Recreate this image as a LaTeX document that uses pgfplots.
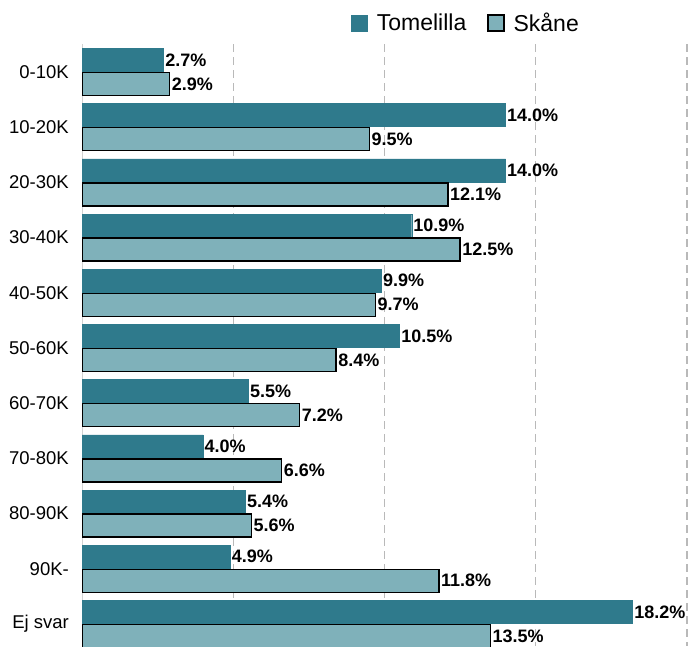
\documentclass[border=0pt]{standalone}
\usepackage{fontspec}
\setmainfont{Liberation Sans}
\usepackage{pgfplots}
\pgfplotsset{compat=1.18}
\definecolor{tome}{RGB}{47,122,140}
\definecolor{skane}{RGB}{127,177,186}
\begin{document}
\begin{tikzpicture}
\useasboundingbox (0,0) rectangle (688pt,646pt);
\begin{axis}[
  at={(82pt,0pt)}, anchor=south west,
  scale only axis, width=605pt, height=601.6pt,
  xbar, bar width=23pt,
  xmin=0, xmax=20, ymin=-0.5, ymax=10.4, y dir=reverse,
  axis line style={draw=none},
  xtick={5,10,15,20}, xticklabels={}, major tick length=0pt,
  xmajorgrids, grid style={dashed, gray!55, line width=1.2pt, dash pattern=on 8pt off 5pt},
  extra x ticks={0}, extra x tick labels={}, extra x tick style={grid style={solid, gray!35, line width=1pt}},
  ytick={0,...,10},
  yticklabels={0-10K,10-20K,20-30K,30-40K,40-50K,50-60K,60-70K,70-80K,80-90K,90K-,Ej svar},
  yticklabel style={font=\fontsize{18.5}{22}\selectfont, inner xsep=0pt, xshift=-13pt},
  /pgf/number format/assume math mode=true,
  nodes near coords={\pgfmathprintnumber[fixed,fixed zerofill,precision=1]{\pgfplotspointmeta}\%},
  nodes near coords style={font=\fontsize{18}{21}\selectfont\bfseries, inner xsep=1.5pt, anchor=west},
  legend style={at={(axis description cs:0.445,1.0356)}, anchor=west, draw=none, fill=none, inner sep=0pt,
    nodes={inner sep=0pt},
    font=\fontsize{23}{27}\selectfont,
    /tikz/every odd column/.append style={column sep=9pt},
    /tikz/every even column/.append style={column sep=21pt}},
  legend columns=2, legend cell align=left,
  legend image code/.code={\draw[#1] (0pt,-8pt) rectangle (16pt,8pt);},
]
\addplot[fill=tome, draw=tome, bar shift=12pt] coordinates {
(2.7,0) (14.0,1) (14.0,2) (10.9,3) (9.9,4) (10.5,5) (5.5,6) (4.0,7) (5.4,8) (4.9,9) (18.2,10)};
\addlegendentry{Tomelilla}
\addplot[fill=skane, draw=black, line width=1.3pt, bar shift=-12pt] coordinates {
(2.9,0) (9.5,1) (12.1,2) (12.5,3) (9.7,4) (8.4,5) (7.2,6) (6.6,7) (5.6,8) (11.8,9) (13.5,10)};
\addlegendentry{Skåne}
\end{axis}
\end{tikzpicture}
\end{document}
